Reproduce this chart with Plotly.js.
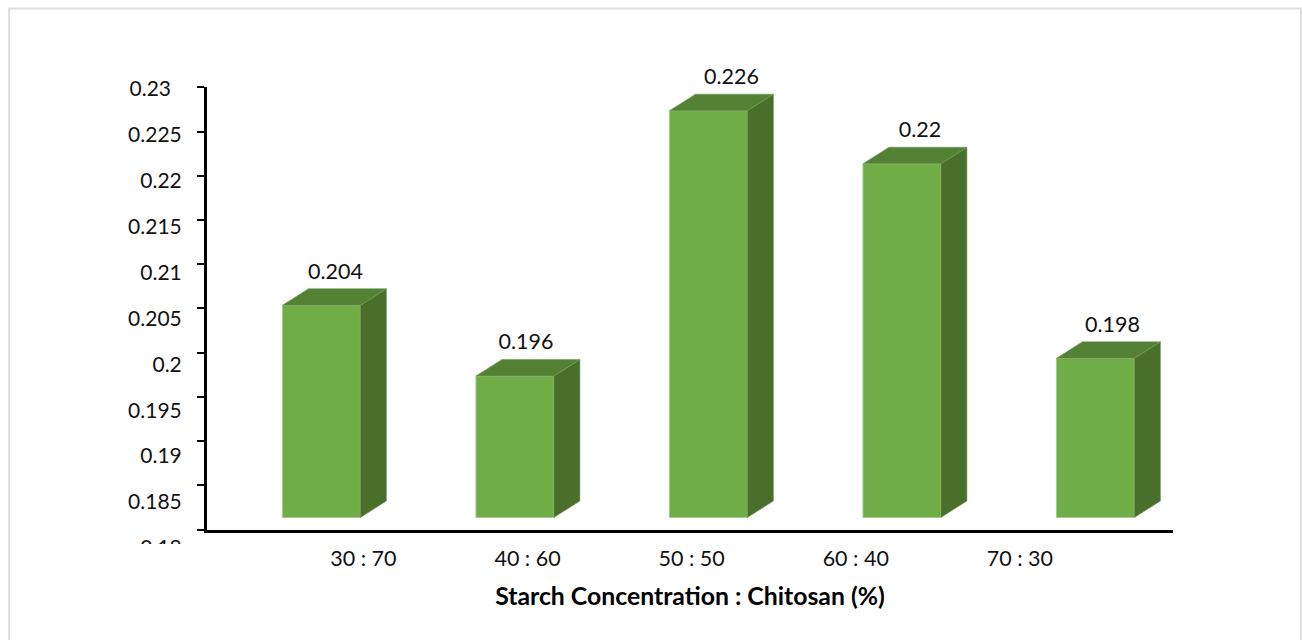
<!DOCTYPE html>
<html>
<head>
<meta charset="utf-8">
<script src="https://cdn.plot.ly/plotly-3.0.1.min.js"></script>
<style>html,body{margin:0;padding:0;background:#fff}#chart{width:1302px;height:640px}</style>
</head>
<body>
<div id="chart"></div>
<script>
const categories = ["30 : 70", "40 : 60", "50 : 50", "60 : 40", "70 : 30"];
const values = [0.204, 0.196, 0.226, 0.22, 0.198];
const valueLabels = ["0.204", "0.196", "0.226", "0.22", "0.198"];
const yTicks = [0.18, 0.185, 0.19, 0.195, 0.2, 0.205, 0.21, 0.215, 0.22, 0.225, 0.23];
const yTickLabels = ["0.18", "0.185", "0.19", "0.195", "0.2", "0.205", "0.21", "0.215", "0.22", "0.225", "0.23\u00a0\u00a0"];
const xTitle = "Starch Concentration : Chitosan (%)";

// Pseudo-3D geometry, expressed in axis units
const FONT = "Lato, Carlito, Calibri, sans-serif";
const pxX = 193.6, pxY = 8844;
const barW = 78 / pxX, depthX = 26 / pxX, depthY = 16.5 / pxY, lift = 12 / pxY;
const labelGap = 15.5 / pxY;
const labelShiftX = [14, 11, 23, 18, 17].map(p => p / pxX);
const tickStart = 42 / pxX, tickStep = 164.2 / pxX;
const yMin = 0.18, yMax = 0.23;

const TOP = 50, BOTTOM = 548, H = BOTTOM - TOP, L = 206.5, W = 966.5, AXIS_Y = 529.5;

const idx = categories.map((_, i) => i);
const front = {
  type: "bar", x: idx, y: values.map(v => v - yMin), base: values.map(() => yMin + lift),
  width: barW, marker: {color: "#70ad47", line: {color: "#a3cc88", width: 1}},
  hoverinfo: "skip", showlegend: false
};
function polyX(fn) { return idx.flatMap(fn); }
const side = {
  type: "scatter", mode: "lines", fill: "toself", fillcolor: "#4a6f2b",
  line: {color: "#6f9a55", width: 0.6}, hoverinfo: "skip", showlegend: false,
  x: polyX(i => [i + barW/2, i + barW/2 + depthX, i + barW/2 + depthX, i + barW/2, i + barW/2, null]),
  y: polyX(i => [yMin + lift, yMin + lift + depthY, values[i] + lift + depthY, values[i] + lift, yMin + lift, null])
};
const top3d = {
  type: "scatter", mode: "lines", fill: "toself", fillcolor: "#548235",
  line: {color: "#6f9a55", width: 0.6}, hoverinfo: "skip", showlegend: false,
  x: polyX(i => [i - barW/2, i - barW/2 + depthX, i + barW/2 + depthX, i + barW/2, i - barW/2, null]),
  y: polyX(i => [values[i] + lift, values[i] + lift + depthY, values[i] + lift + depthY, values[i] + lift, values[i] + lift, null])
};
const labels = {
  type: "scatter", mode: "text", yaxis: "y3", x: idx.map(i => i + labelShiftX[i]),
  y: values.map(v => v + lift + depthY + labelGap), text: valueLabels,
  textposition: "middle center", textfont: {family: FONT, size: 21.5, color: "#111"},
  cliponaxis: false, hoverinfo: "skip", showlegend: false
};
const tickCarrier = {type: "scatter", mode: "markers", x: [0], y: [yMin], yaxis: "y2",
  marker: {opacity: 0, size: 1}, hoverinfo: "skip", showlegend: false};

const layout = {
  width: 1302, height: 640, paper_bgcolor: "#fff", plot_bgcolor: "rgba(0,0,0,0)",
  margin: {l: L, r: 1302 - L - W, t: TOP, b: 640 - BOTTOM, pad: 0},
  showlegend: false, bargap: 0,
  font: {family: FONT, size: 21, color: "#111"},
  xaxis: {
    type: "linear", range: [(L - 321) / pxX, (L + W - 321) / pxX],
    tickmode: "array", tickvals: idx.map(i => tickStart + i * tickStep), ticktext: categories,
    ticks: "outside", ticklen: 8, tickcolor: "rgba(0,0,0,0)",
    showline: true, linecolor: "#000", linewidth: 3, showgrid: false, zeroline: false,
    anchor: "y", automargin: false, tickfont: {family: FONT, size: 21.5, color: "#111"},
    title: {text: "<b>" + xTitle + "</b>", standoff: 18, font: {family: FONT, size: 24.8, color: "#000"}}
  },
  yaxis: {
    range: [yMin, yMax], domain: [(BOTTOM - AXIS_Y) / H, (BOTTOM - 87.3) / H],
    tickmode: "array", tickvals: yTicks, showticklabels: false,
    ticks: "outside", ticklen: 7, tickwidth: 2, tickcolor: "#000",
    showline: true, linecolor: "#000", linewidth: 3, showgrid: false, zeroline: false,
    anchor: "x", automargin: false
  },
  yaxis2: {
    range: [yMin, yMax], domain: [0, (BOTTOM - 88.5) / H],
    tickmode: "array", tickvals: yTicks, ticktext: yTickLabels,
    ticks: "outside", ticklen: 21, tickcolor: "rgba(0,0,0,0)",
    showline: false, showgrid: false, zeroline: false,
    anchor: "free", position: 0, side: "left", automargin: false,
    tickfont: {family: FONT, size: 21, color: "#111"}
  },
  yaxis3: {
    range: [yMin, yMin + (AXIS_Y - TOP) / pxY], domain: [(BOTTOM - AXIS_Y) / H, 1],
    visible: false, anchor: "x", automargin: false
  },
  shapes: [
    {type: "rect", xref: "paper", yref: "paper", layer: "above",
     x0: (120 - L) / W, x1: (195 - L) / W, y0: (BOTTOM - 565) / H, y1: (BOTTOM - 544) / H,
     fillcolor: "#fff", line: {width: 0}},
    {type: "rect", xref: "paper", yref: "paper", layer: "above",
     x0: (8.5 - L) / W, x1: (1301 - L) / W, y0: (BOTTOM - 660) / H, y1: (BOTTOM - 8.5) / H,
     fillcolor: "rgba(0,0,0,0)", line: {color: "#dedede", width: 2}}
  ]
};

Plotly.newPlot("chart", [front, side, top3d, labels, tickCarrier], layout, {displayModeBar: false, staticPlot: true});
</script>
</body>
</html>
